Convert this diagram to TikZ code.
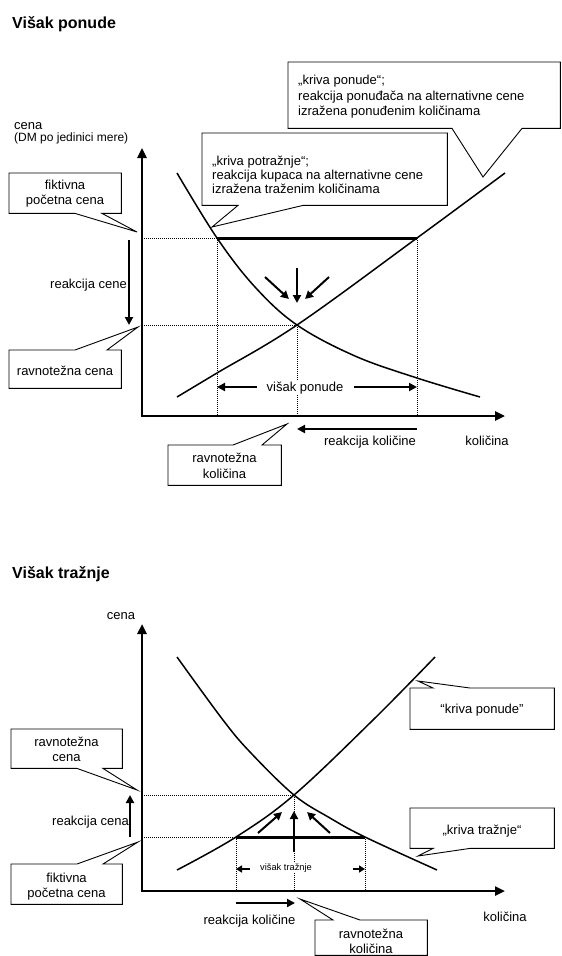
\documentclass[tikz,border=0pt]{standalone}
\usepackage{fontspec}
\setmainfont{Liberation Sans}
\usetikzlibrary{arrows.meta,calc}

\begin{document}
\begin{tikzpicture}[x=1pt,y=-1pt,
  txt/.style={inner sep=0pt, font=\fontsize{13}{15}\selectfont},
  lbl/.style={txt, fill=white, inner xsep=2pt, inner ysep=1pt},
  ttl/.style={inner sep=0pt, anchor=base west, font=\fontsize{16}{18}\selectfont\bfseries},
  box/.style={inner sep=0pt, draw=none, anchor=north west},
  callout/.style={draw, line width=0.9pt, fill=white, line join=miter},
  axes/.style={line width=2.4pt, line join=miter,
    {Triangle[length=10pt,width=9pt]}-{Triangle[length=10pt,width=9pt]}},
  curve/.style={line width=1.5pt},
  guide/.style={line width=1pt, dash pattern=on 1pt off 1pt},
  bar/.style={line width=3pt},
  move/.style={line width=2pt, -{Triangle[length=8pt,width=8pt]}},
  tiny/.style={line width=2pt, -{Triangle[length=6pt,width=7pt]}},
]
\useasboundingbox (0,0) rectangle (562,956);

% ================= upper diagram: excess supply =================
\node[ttl] (title1) at (12,28) {Višak ponude};
\node[txt, anchor=base west] (cena1) at (14,129) {cena};
\node[txt, anchor=base west, font=\fontsize{12}{13}\selectfont] (unit1) at (14,141.5) {(DM po jedinici mere)};

\coordinate (O1) at (142,416);
\coordinate (Y1) at (142,148);
\coordinate (X1) at (505,416);
\coordinate (E1) at (297,325);  % equilibrium
\coordinate (D1) at (217,238);  % demanded quantity at the fictitious price
\coordinate (S1) at (417,238);  % supplied quantity at the fictitious price

% guide lines
\draw[guide] (O1 |- D1) -- (D1);
\draw[guide] (O1 |- E1) -- (E1);
\draw[guide] (D1) -- (D1 |- O1);
\draw[guide] (E1) -- (E1 |- O1);
\draw[guide] (S1) -- (S1 |- O1);
\draw[bar] (D1) -- (S1);

% demand and supply curves
\draw[curve] plot[smooth, tension=0.6] coordinates
  {(177,173) (217,238) (255,287) (297,325) (355,356) (417,378) (480,397)};
\draw[curve] plot[smooth, tension=0.6] coordinates
  {(177,397) (217,373) (297,325) (417,238) (505,173)};

% axes
\draw[axes] (Y1) -- (O1) -- (X1);

% adjustment arrows
\draw[move] (265,277) -- (289,299);
\draw[move] (297,268) -- (297,303);
\draw[move] (329,277) -- (305,299);
\draw[move] (129,240) -- (129,325);
\draw[move] (417,429) -- (297,429);
\draw[move] (257,387) -- (D1 |- 0,387);
\draw[move] (354,387) -- (S1 |- 0,387);

\node[lbl, anchor=base] (exc1) at (305,391) {višak ponude};
\node[txt, anchor=base west] (rc1t) at (50,288) {reakcija cene};
\node[txt, anchor=base] (rq1t) at (370,445.5) {reakcija količine};
\node[txt, anchor=base] (q1) at (487,445.5) {količina};

% callout: fictitious starting price
\node[box, minimum width=112, minimum height=40] (fik1) at (9,173) {};
\coordinate (fik1p) at (137,232);
\draw[callout] (fik1.north west) -- (fik1.north east) -- (fik1.south east)
  -- (102,0 |- fik1.south) -- (fik1p) -- (75,0 |- fik1.south) -- (fik1.south west) -- cycle;
\node[txt, anchor=base] at (65,189.5) {fiktivna};
\node[txt, anchor=base] at (65,204) {početna cena};

% callout: equilibrium price
\node[box, minimum width=112, minimum height=38] (rc1) at (9,350) {};
\coordinate (rc1p) at (138,327);
\draw[callout] (rc1.south west) -- (rc1.north west) -- (75,0 |- rc1.north) -- (rc1p)
  -- (107,0 |- rc1.north) -- (rc1.north east) -- (rc1.south east) -- cycle;
\node[txt, anchor=base] at (65,375.5) {ravnotežna cena};

% callout: demand curve
\node[box, minimum width=245, minimum height=72] (dem1) at (202,133) {};
\coordinate (dem1p) at (212,227);
\draw[callout] (dem1.north west) -- (dem1.north east) -- (dem1.south east)
  -- (303,0 |- dem1.south) -- (dem1p) -- (238,0 |- dem1.south) -- (dem1.south west) -- cycle;
\node[txt, anchor=base west] at (212,165.5) {„kriva potražnje“;};
\node[txt, anchor=base west] at (212,179.5) {reakcija kupaca na alternativne cene};
\node[txt, anchor=base west] at (212,193.5) {izražena traženim količinama};

% callout: supply curve
\node[box, minimum width=272, minimum height=66] (sup1) at (288,62) {};
\coordinate (sup1p) at (483,177);
\draw[callout] (sup1.north west) -- (sup1.north east) -- (sup1.south east)
  -- (522,0 |- sup1.south) -- (sup1p) -- (452,0 |- sup1.south) -- (sup1.south west) -- cycle;
\node[txt, anchor=base west] at (298,84.5) {„kriva ponude“;};
\node[txt, anchor=base west] at (298,100) {reakcija ponuđača na alternativne cene};
\node[txt, anchor=base west] at (298,115.5) {izražena ponuđenim količinama};

% callout: equilibrium quantity
\node[box, minimum width=113, minimum height=40] (rq1) at (168,445) {};
\coordinate (rq1p) at (287,424);
\draw[callout] (rq1.south west) -- (rq1.north west) -- (233,0 |- rq1.north) -- (rq1p)
  -- (262,0 |- rq1.north) -- (rq1.north east) -- (rq1.south east) -- cycle;
\node[txt, anchor=base] at (224.5,462.5) {ravnotežna};
\node[txt, anchor=base] at (224.5,478.5) {količina};

% ================= lower diagram: excess demand =================
\node[ttl] (title2) at (12,578) {Višak tražnje};
\node[txt, anchor=base] (cena2) at (121,619) {cena};

\coordinate (O2) at (142,891);
\coordinate (Y2) at (142,624);
\coordinate (X2) at (505,891);
\coordinate (E2) at (294,795);  % equilibrium
\coordinate (S2) at (236,837);  % supplied quantity at the fictitious price
\coordinate (D2) at (365,837);  % demanded quantity at the fictitious price

\draw[guide] (O2 |- E2) -- (E2);
\draw[guide] (O2 |- S2) -- (S2);
\draw[guide] (S2) -- (S2 |- O2);
\draw[guide] (D2) -- (D2 |- O2);
\draw[guide] (E2) -- (E2 |- O2);
\draw[bar] (S2) -- (D2);

\draw[curve] plot[smooth, tension=0.6] coordinates
  {(177,657) (223,720) (250,752) (294,795) (330,818) (365,837) (437,870)};
\draw[curve] plot[smooth, tension=0.6] coordinates
  {(177,870) (236,837) (294,795) (373,720) (435,657)};

\draw[axes] (Y2) -- (O2) -- (X2);

\draw[move] (258,833) -- (282,812);
\draw[move] (294,852) -- (294,811);
\draw[move] (330,833) -- (307,812);
\draw[move] (130,837) -- (130,795);
\draw[move] (236,903) -- (295,903);
\draw[tiny] (250,869) -- (S2 |- 0,869);
\draw[tiny] (353,869) -- (D2 |- 0,869);

\node[lbl, anchor=base, font=\fontsize{9.3}{11}\selectfont] (exc2) at (286,870) {višak tražnje};
\node[txt, anchor=base west] (rc2t) at (52,825.5) {reakcija cena};
\node[txt, anchor=base] (rq2t) at (249.5,924.5) {reakcija količine};
\node[txt, anchor=base] (q2) at (505,921.5) {količina};

% callout: equilibrium price
\node[box, minimum width=111, minimum height=39] (rc2) at (11,729) {};
\coordinate (rc2p) at (137,790);
\draw[callout] (rc2.north west) -- (rc2.north east) -- (rc2.south east)
  -- (103,0 |- rc2.south) -- (rc2p) -- (77,0 |- rc2.south) -- (rc2.south west) -- cycle;
\node[txt, anchor=base] at (66.5,746.5) {ravnotežna};
\node[txt, anchor=base] at (66.5,761) {cena};

% callout: fictitious starting price
\node[box, minimum width=111, minimum height=40] (fik2) at (11,864) {};
\coordinate (fik2p) at (138,842);
\draw[callout] (fik2.south west) -- (fik2.north west) -- (77,0 |- fik2.north) -- (fik2p)
  -- (103,0 |- fik2.north) -- (fik2.north east) -- (fik2.south east) -- cycle;
\node[txt, anchor=base] at (66.5,882) {fiktivna};
\node[txt, anchor=base] at (66.5,897.5) {početna cena};

% callout: supply curve
\node[box, minimum width=144, minimum height=41] (sup2) at (410,688) {};
\coordinate (sup2p) at (418,681);
\draw[callout] (sup2.south west) -- (sup2.north west) -- (433,0 |- sup2.north) -- (sup2p)
  -- (470,0 |- sup2.north) -- (sup2.north east) -- (sup2.south east) -- cycle;
\node[txt, anchor=base] at (482,713.5) {“kriva ponude”};

% callout: demand curve
\node[box, minimum width=144, minimum height=40] (dem2) at (410,808) {};
\coordinate (dem2p) at (418,856);
\draw[callout] (dem2.north west) -- (dem2.north east) -- (dem2.south east)
  -- (470,0 |- dem2.south) -- (dem2p) -- (433,0 |- dem2.south) -- (dem2.south west) -- cycle;
\node[txt, anchor=base] at (482,834.5) {„kriva tražnje“};

% callout: equilibrium quantity
\node[box, minimum width=112, minimum height=35] (rq2) at (315,920) {};
\coordinate (rq2p) at (300,899);
\draw[callout] (rq2.south west) -- (rq2.north west) -- (333,0 |- rq2.north) -- (rq2p)
  -- (360,0 |- rq2.north) -- (rq2.north east) -- (rq2.south east) -- cycle;
\node[txt, anchor=base] at (371,938) {ravnotežna};
\node[txt, anchor=base] at (371,953.5) {količina};

\end{tikzpicture}
\end{document}
